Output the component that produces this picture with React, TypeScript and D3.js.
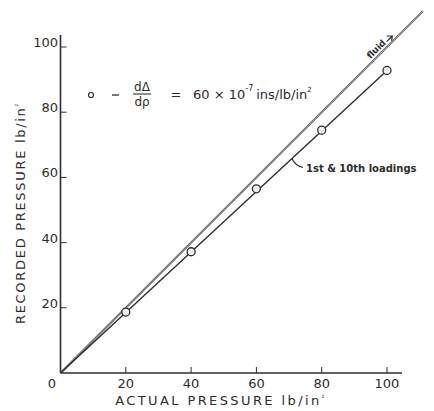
import React from "react";
import * as d3 from "d3";

const actual = [20, 40, 60, 80, 100];
const recorded = [18.7, 37.2, 56.5, 74.5, 92.8];
const fluidEnd = [0, 111];
const xTicks = [20, 40, 60, 80, 100];
const yTicks = [20, 40, 60, 80, 100];

const W = 434;
const H = 411;
const INK = "#2e2e2e";
const FONT = "'DejaVu Sans', sans-serif";

export default function App() {
  const x = d3.scaleLinear().domain([0, 100]).range([60.5, 387]);
  const y = d3.scaleLinear().domain([0, 100]).range([373, 47]);

  const fluidLine = d3.line<number>().x((d) => x(d)).y((d) => y(d))(fluidEnd) || "";
  const loadPts: [number, number][] = [[0, 0], [100, recorded[recorded.length - 1]]];
  const loadLine = d3.line<[number, number]>().x((d) => x(d[0])).y((d) => y(d[1]))(loadPts) || "";

  const lx = x(70.9);
  const ly = y(70.9 * recorded[4] / 100);
  const fx = x(96);
  const fy = y(96);

  return (
    <svg width={W} height={H} style={{ position: "absolute", left: 0, top: 0, background: "#fff" }} fontFamily={FONT}>
      <rect width={W} height={H} fill="#fff" />
      {/* axes */}
      <line x1={x(0)} y1={y(0)} x2={402} y2={y(0)} stroke={INK} strokeWidth={1.6} />
      <line x1={x(0)} y1={y(0)} x2={x(0)} y2={35} stroke={INK} strokeWidth={1.6} />
      {xTicks.map((t) => (
        <g key={"x" + t}>
          <line x1={x(t)} x2={x(t)} y1={y(0)} y2={y(0) - 6} stroke={INK} strokeWidth={1} />
          <text x={x(t)} y={388} textAnchor="middle" fontSize={13} fill={INK}>{t}</text>
        </g>
      ))}
      <text x={52} y={388} textAnchor="middle" fontSize={13} fill={INK}>0</text>
      {yTicks.map((t) => (
        <g key={"y" + t}>
          <line x1={x(0)} x2={x(0) + 6} y1={y(t)} y2={y(t)} stroke={INK} strokeWidth={1} />
          <text x={58} y={y(t)} textAnchor="end" fontSize={13} fill={INK}>{t}</text>
        </g>
      ))}
      {/* axis titles */}
      <text x={221} y={405} textAnchor="middle" fontSize={13} fill={INK} letterSpacing={2.4}>
        ACTUAL  PRESSURE lb/in<tspan fontSize={7} dy={-5}>²</tspan>
      </text>
      <text transform={`translate(25,213) rotate(-90)`} textAnchor="middle" fontSize={13} fill={INK} letterSpacing={1.7}>
        RECORDED  PRESSURE  lb/in<tspan fontSize={7} dy={-5}>²</tspan>
      </text>
      {/* lines */}
      <path d={fluidLine} stroke="#555" strokeWidth={2} fill="none" />
      <path d={fluidLine} stroke="#ddd" strokeWidth={0.6} fill="none" />
      <path d={loadLine} stroke={INK} strokeWidth={1.4} fill="none" />
      {actual.map((a, i) => (
        <circle key={a} cx={x(a)} cy={y(recorded[i])} r={4} fill="#eee" stroke={INK} strokeWidth={1.3} />
      ))}
      {/* fluid label */}
      <g transform={`translate(${fx},${fy}) rotate(-45)`}>
        <text x={-2} y={-3} fontSize={9} fill={INK} fontWeight="bold">fluid</text>
        <path d="M22,-4 L30,-4 M26,-8 L30,-4 L26,-1" stroke={INK} strokeWidth={1.2} fill="none" />
      </g>
      {/* loadings label */}
      <path d={`M${lx},${ly} Q${lx + 3},${ly + 7} ${lx + 11},${ly + 9}`} stroke={INK} strokeWidth={1.2} fill="none" />
      <text x={lx + 14} y={ly + 13} fontSize={10} fill={INK} fontWeight="bold">
        1st &amp; 10th  loadings
      </text>
      {/* equation */}
      <g fill={INK} fontSize={13}>
        <circle cx={91} cy={95} r={2.5} fill="none" stroke={INK} strokeWidth={1.2} />
        <line x1={112} x2={119} y1={95} y2={95} stroke={INK} strokeWidth={1.3} />
        <text x={142} y={91} textAnchor="middle" fontSize={12}>dΔ</text>
        <line x1={133} x2={151} y1={94} y2={94} stroke={INK} strokeWidth={1.1} />
        <text x={142} y={106} textAnchor="middle" fontSize={12}>dρ</text>
        <text x={176} y={99} textAnchor="middle">=</text>
        <text x={193} y={99}>60 × 10<tspan fontSize={8} dy={-8}>-7</tspan><tspan dy={8} dx={3}>ins/lb/in</tspan><tspan fontSize={7} dy={-7}>2</tspan></text>
      </g>
    </svg>
  );
}
